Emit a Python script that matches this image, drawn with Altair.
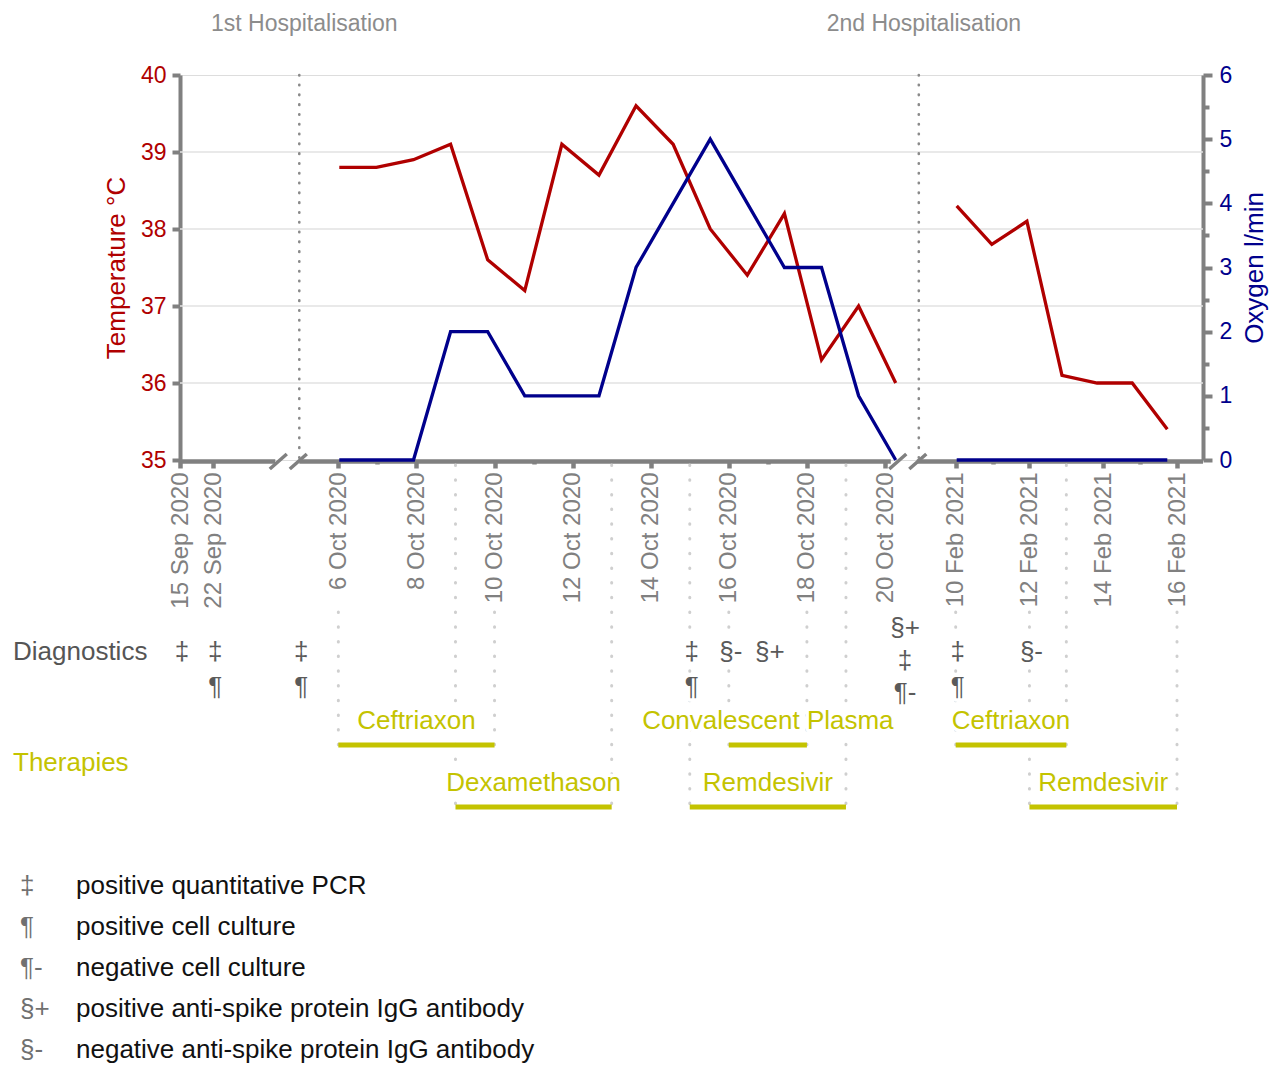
import altair as alt
import pandas as pd

# ---------------- data ----------------
OCT_DATES = ["2020-10-06", "2020-10-07", "2020-10-08", "2020-10-09", "2020-10-10", "2020-10-11",
             "2020-10-12", "2020-10-13", "2020-10-14", "2020-10-15", "2020-10-16", "2020-10-17",
             "2020-10-18", "2020-10-19", "2020-10-20", "2020-10-21"]
TEMP_OCT = [38.8, 38.8, 38.9, 39.1, 37.6, 37.2, 39.1, 38.7, 39.6, 39.1, 38.0, 37.4, 38.2, 36.3, 37.0, 36.0]
OXY_OCT = [0, 0, 0, 2, 2, 1, 1, 1, 3, 4, 5, 4, 3, 3, 1, 0]

FEB_DATES = ["2021-02-10", "2021-02-11", "2021-02-12", "2021-02-13", "2021-02-14", "2021-02-15", "2021-02-16"]
TEMP_FEB = [38.3, 37.8, 38.1, 36.1, 36.0, 36.0, 35.4]
OXY_FEB = [0, 0, 0, 0, 0, 0, 0]

HOSP_LABELS = ["1st Hospitalisation", "2nd Hospitalisation"]
HOSP_STARTS = ["2020-10-05", "2021-02-09"]

TICK_DATES = ["2020-09-15", "2020-09-22",
              "2020-10-06", "2020-10-07", "2020-10-08", "2020-10-09", "2020-10-10", "2020-10-11",
              "2020-10-12", "2020-10-13", "2020-10-14", "2020-10-15", "2020-10-16", "2020-10-17",
              "2020-10-18", "2020-10-19", "2020-10-20",
              "2021-02-10", "2021-02-11", "2021-02-12", "2021-02-13", "2021-02-14", "2021-02-15",
              "2021-02-16"]
LABEL_DATES = ["2020-09-15", "2020-09-22", "2020-10-06", "2020-10-08", "2020-10-10", "2020-10-12",
               "2020-10-14", "2020-10-16", "2020-10-18", "2020-10-20",
               "2021-02-10", "2021-02-12", "2021-02-14", "2021-02-16"]

THERAPY_NAMES = ["Ceftriaxon", "Dexamethason", "Convalescent Plasma", "Remdesivir", "Ceftriaxon", "Remdesivir"]
THERAPY_START = ["2020-10-06", "2020-10-09", "2020-10-16", "2020-10-15", "2021-02-10", "2021-02-12"]
THERAPY_END = ["2020-10-10", "2020-10-13", "2020-10-18", "2020-10-19", "2021-02-13", "2021-02-16"]
THERAPY_ROW = [1, 2, 1, 2, 1, 2]

DIAG_DATES = ["2020-09-15", "2020-09-22", "2020-10-05", "2020-10-15", "2020-10-16", "2020-10-17",
              "2020-10-21", "2021-02-10", "2021-02-12"]
DIAG_SYMBOLS = [["‡"], ["‡", "¶"], ["‡", "¶"], ["‡", "¶"], ["§-"], ["§+"],
                ["§+", "‡", "¶-"], ["‡", "¶"], ["§-"]]

LEGEND_SYMBOLS = ["‡", "¶", "¶-", "§+", "§-"]
LEGEND_TEXT = ["positive quantitative PCR", "positive cell culture", "negative cell culture",
               "positive anti-spike protein IgG antibody", "negative anti-spike protein IgG antibody"]

TEMP_TICKS = [35, 36, 37, 38, 39, 40]
OXY_TICKS = [0, 0.5, 1, 1.5, 2, 2.5, 3, 3.5, 4, 4.5, 5, 5.5, 6]

# ---------------- layout / style ----------------
W, H = 1023, 385
FONT = "Liberation Sans"
RED = "#b00000"
NAVY = "#00008c"
GREY = "#808080"
OLIVE = "#c4c300"
DARK = "#5a5a5a"

# broken time axis: piecewise linear scales on "days since epoch"
AXIS_BREAKS = ["2020-09-15", "2020-09-22", "2020-10-05", "2020-10-20", "2020-10-21",
               "2021-02-09", "2021-02-16", "2021-02-16T17:00"]
AXIS_PIX = [0, 33.3, 119.3, 705, 723, 738.8, 997, W]
DATA_BREAKS = ["2020-10-06", "2020-10-21", "2021-02-10", "2021-02-16"]
DATA_PIX = [159.3, 715.7, 776.7, 987.3]


def day(d):
    v = (pd.Timestamp(d) - pd.Timestamp("1970-01-01")) / pd.Timedelta(days=1)
    return int(v) if float(v).is_integer() else float(v)


axis_scale = alt.Scale(type="linear", domain=[day(d) for d in AXIS_BREAKS], range=AXIS_PIX,
                       nice=False, zero=False)
data_scale = alt.Scale(type="linear", domain=[day(d) for d in DATA_BREAKS], range=DATA_PIX,
                       nice=False, zero=False)

label_days = [day(d) for d in LABEL_DATES]
boundaries = set(THERAPY_START + THERAPY_END)
hidden_days = [day(d) for d in TICK_DATES if d not in LABEL_DATES and d in boundaries]
minor_days = [day(d) for d in TICK_DATES if d not in LABEL_DATES and d not in boundaries]

x_axis = alt.Axis(
    orient="bottom", values=[day(d) for d in TICK_DATES], domain=False, grid=False, title=None,
    labelExpr=(f"indexof({label_days}, datum.value) >= 0 ? "
               "utcFormat(datum.value * 86400000, '%-d %b %Y') : ''"),
    labelAngle=270, labelFont=FONT, labelFontSize=24, labelColor=GREY, labelPadding=4,
    labelFlush=False, labelOverlap=False, labelBound=False,
    tickColor=GREY, tickWidth=4.5,
    tickSize={"condition": {"test": f"indexof({minor_days}, datum.value) >= 0", "value": 4}, "value": 8},
    tickOpacity={"condition": {"test": f"indexof({hidden_days}, datum.value) >= 0", "value": 0}, "value": 1},
)


def AX(field, axis=None):
    return alt.X(f"{field}:Q", scale=axis_scale, axis=axis, title=None)


# ---------------- grid (temperature) ----------------
grid_df = pd.DataFrame({"v": [t for t in TEMP_TICKS if TEMP_TICKS[0] < t < TEMP_TICKS[-1]]})
grid = alt.Chart(grid_df).mark_rule(color="#e2e2e2", strokeWidth=1.5).encode(
    y=alt.Y("v:Q", scale=alt.Scale(domain=[35, 40]), axis=None),
    x=alt.value(0), x2=alt.value(W))

# ---------------- annotations on the axis scale ----------------
hosp_df = pd.DataFrame({"date": [day(d) for d in HOSP_STARTS], "label": HOSP_LABELS})

sep = alt.Chart(hosp_df).mark_rule(color="#8a8a8a", strokeWidth=2.6, strokeCap="round",
                                   strokeDash=[0.5, 9.3]).encode(x=AX("date", x_axis))
titles = alt.Chart(hosp_df).mark_text(font=FONT, fontSize=23, color="#8c8c8c", baseline="middle",
                                      dx=5).encode(
    x=AX("date"), y=alt.value(-51), text="label:N")

AXIS_Y = H + 1.5
seg_style = dict(color=GREY, strokeWidth=4.5)
seg1 = alt.Chart(pd.DataFrame({"a": [day(AXIS_BREAKS[0])], "b": [day(HOSP_STARTS[0])]})).mark_rule(
    x2Offset=-24, **seg_style).encode(x=AX("a"), x2="b", y=alt.value(AXIS_Y))
seg2 = alt.Chart(pd.DataFrame({"a": [day(HOSP_STARTS[0])], "b": [day(HOSP_STARTS[1])]})).mark_rule(
    x2Offset=-28, **seg_style).encode(x=AX("a"), x2="b", y=alt.value(AXIS_Y))
seg3 = alt.Chart(pd.DataFrame({"a": [day(HOSP_STARTS[1])], "b": [day(AXIS_BREAKS[-1])]})).mark_rule(
    xOffset=-2, **seg_style).encode(x=AX("a"), x2="b", y=alt.value(AXIS_Y))

BREAK_PATH = "M -1.85 0.75 L -0.15 -0.75 M 0.15 0.75 L 1.85 -0.75"
breaks = alt.Chart(hosp_df).mark_point(shape=BREAK_PATH, size=400, filled=False, color=GREY,
                                       strokeWidth=3.5, opacity=1, xOffset=-11).encode(
    x=AX("date"), y=alt.value(AXIS_Y))

# therapies
BAR_Y = {1: 670, 2: 732}
ther_df = pd.DataFrame({
    "name": THERAPY_NAMES,
    "start": [day(d) for d in THERAPY_START],
    "end": [day(d) for d in THERAPY_END],
    "row": THERAPY_ROW,
})
ther_df["mid"] = (ther_df["start"] + ther_df["end"]) / 2

dot_rows = []
for s, e, r in zip(THERAPY_START, THERAPY_END, THERAPY_ROW):
    for d in (s, e):
        dot_rows.append({"date": day(d), "y0": 537 if d in LABEL_DATES else 390, "y1": BAR_Y[r]})
dots_df = pd.DataFrame(dot_rows)
dots = alt.Chart(dots_df).mark_rule(color="#cfcfcf", strokeWidth=3, strokeCap="round",
                                    strokeDash=[0.5, 14.2]).encode(
    x=AX("date"), y=alt.Y("y0:Q", scale=None, axis=None), y2="y1:Q")

ther_label_y = alt.Y("row:Q", scale=alt.Scale(domain=[1, 2], range=[645.7, 707.7]), axis=None)
ther_halo = alt.Chart(ther_df).mark_text(font=FONT, fontSize=26, color="white", stroke="white",
                                         strokeWidth=7, strokeJoin="round").encode(
    x=AX("mid"), y=ther_label_y, text="name:N")
ther_text = alt.Chart(ther_df).mark_text(font=FONT, fontSize=26, color=OLIVE).encode(
    x=AX("mid"), y=ther_label_y, text="name:N")
bars = alt.Chart(ther_df).mark_rule(color=OLIVE, strokeWidth=5).encode(
    x=AX("start"), x2="end",
    y=alt.Y("row:Q", scale=alt.Scale(domain=[1, 2], range=[BAR_Y[1], BAR_Y[2]]), axis=None))

# diagnostics
diag_rows = []
for d, syms in zip(DIAG_DATES, DIAG_SYMBOLS):
    n = len(syms)
    for k, s in enumerate(syms):
        slot = k if n <= 2 else (k - 1) * 0.95 + 0.25
        diag_rows.append({"date": day(d), "sym": s, "slot": slot})
diag_df = pd.DataFrame(diag_rows)
diag_y = alt.Y("slot:Q", scale=alt.Scale(domain=[0, 1], range=[577, 611.5]), axis=None)
diag_halo = alt.Chart(diag_df).mark_text(font=FONT, fontSize=26, color="white", stroke="white",
                                         strokeWidth=7, strokeJoin="round", dx=2).encode(
    x=AX("date"), y=diag_y, text="sym:N")
diag_text = alt.Chart(diag_df).mark_text(font=FONT, fontSize=26, color=DARK, dx=2).encode(
    x=AX("date"), y=diag_y, text="sym:N")

diag_label = alt.Chart(pd.DataFrame({"t": ["Diagnostics"]})).mark_text(
    font=FONT, fontSize=26, color="#555555", align="left").encode(
    x=alt.value(-167), y=alt.value(577), text="t:N")
ther_label = alt.Chart(pd.DataFrame({"t": ["Therapies"]})).mark_text(
    font=FONT, fontSize=26, color=OLIVE, align="left").encode(
    x=alt.value(-167), y=alt.value(687.7), text="t:N")

# legend
leg_df = pd.DataFrame({"i": list(range(len(LEGEND_SYMBOLS))), "sym": LEGEND_SYMBOLS, "txt": LEGEND_TEXT})
leg_y = alt.Y("i:Q", scale=alt.Scale(domain=[0, 4], range=[811, 975]), axis=None)
leg_sym = alt.Chart(leg_df).mark_text(font=FONT, fontSize=26, color="#707070", align="left").encode(
    x=alt.value(-160), y=leg_y, text="sym:N")
leg_txt = alt.Chart(leg_df).mark_text(font=FONT, fontSize=26, color="#111111", align="left").encode(
    x=alt.value(-104), y=leg_y, text="txt:N")

# ---------------- lines on the data scale ----------------
line_df = pd.DataFrame({
    "date": [day(d) for d in OCT_DATES + FEB_DATES],
    "temp": TEMP_OCT + TEMP_FEB,
    "oxy": OXY_OCT + OXY_FEB,
    "hosp": ["1"] * len(OCT_DATES) + ["2"] * len(FEB_DATES),
})
x_data = alt.X("date:Q", scale=data_scale, axis=None, title=None)

temp_axis = alt.Axis(
    orient="left", values=TEMP_TICKS, title="Temperature °C", titleColor=RED, titleFont=FONT,
    titleFontSize=26, titleFontWeight="normal", titlePadding=11,
    labelColor=RED, labelFont=FONT, labelFontSize=23, labelPadding=6,
    domainColor=GREY, domainWidth=4, tickColor=GREY, tickWidth=4, tickSize=8, grid=False,
)
oxy_axis = alt.Axis(
    orient="right", values=OXY_TICKS,
    labelExpr="datum.value % 1 == 0 ? format(datum.value, 'd') : ''",
    title="Oxygen l/min", titleColor=NAVY, titleFont=FONT, titleFontSize=26,
    titleFontWeight="normal", titleAngle=270, titleBaseline="top", titlePadding=10,
    labelColor=NAVY, labelFont=FONT, labelFontSize=23, labelPadding=7,
    domainColor=GREY, domainWidth=4, tickColor=GREY, tickWidth=4,
    tickSize={"condition": {"test": "datum.value % 1 != 0", "value": 6}, "value": 9},
    grid=False,
)

temp_line = alt.Chart(line_df).mark_line(color=RED, strokeWidth=3.3).encode(
    x=x_data, y=alt.Y("temp:Q", scale=alt.Scale(domain=[35, 40]), axis=temp_axis), detail="hosp:N")
oxy_line = alt.Chart(line_df).mark_line(color=NAVY, strokeWidth=3.3).encode(
    x=x_data, y=alt.Y("oxy:Q", scale=alt.Scale(domain=[0, 6]), axis=oxy_axis), detail="hosp:N")

chart = alt.layer(
    grid, sep, titles, seg1, seg2, seg3, breaks, dots, ther_halo, ther_text, bars,
    diag_halo, diag_text, diag_label, ther_label, leg_sym, leg_txt,
    temp_line, oxy_line,
).resolve_scale(
    x="independent", y="independent"
).properties(
    width=W, height=H, background="white",
    autosize=alt.AutoSizeParams(type="none"),
    padding={"left": 172, "top": 67, "right": 66, "bottom": 610},
).configure_view(stroke=None).configure(font=FONT)

chart.save("out.html", embed_options={"renderer": "svg", "actions": False})
